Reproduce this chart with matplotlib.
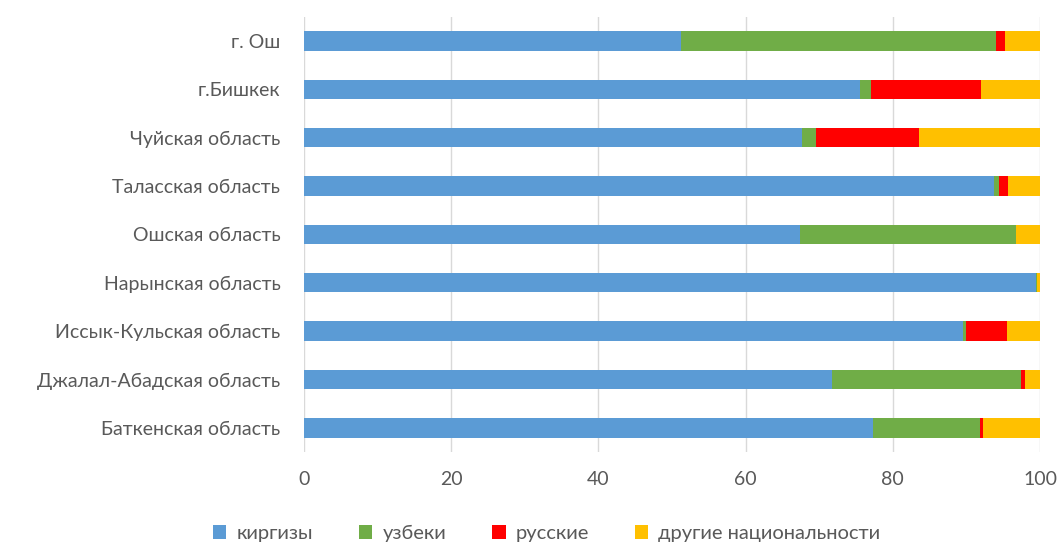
import matplotlib
matplotlib.use("Agg")
import matplotlib.pyplot as plt
import numpy as np

categories = ["г. Ош", "г.Бишкек", "Чуйская область", "Таласская область",
              "Ошская область", "Нарынская область", "Иссык-Кульская область",
              "Джалал-Абадская область", "Баткенская область"]
series_names = ["киргизы", "узбеки", "русские", "другие национальности"]
kyrgyz = [51.2, 75.6, 67.7, 93.7, 67.4, 99.4, 89.5, 71.8, 77.3]
uzbek = [42.8, 1.4, 1.8, 0.7, 29.3, 0.15, 0.5, 25.6, 14.6]
russian = [1.3, 15.0, 14.0, 1.2, 0.0, 0.0, 5.5, 0.5, 0.4]
other = [4.7, 8.0, 16.5, 4.4, 3.3, 0.45, 4.5, 2.1, 7.7]
colors = ["#5B9BD5", "#70AD47", "#FF0000", "#FFC000"]
xticks = [0, 20, 40, 60, 80, 100]

plt.rcParams['font.family'] = ['Lato', 'DejaVu Sans']
fig = plt.figure(figsize=(10.62, 5.44), dpi=100)
ax = fig.add_axes([0.2863, 0.1691, 0.6930, 0.7997])

y = np.arange(len(categories))
left = np.zeros(len(categories))
handles = []
for vals, name, c in zip([kyrgyz, uzbek, russian, other], series_names, colors):
    h = ax.barh(y, vals, left=left, height=0.4, color=c, label=name, zorder=3)
    handles.append(h)
    left = left + np.array(vals)

ax.set_ylim(len(categories) - 0.5, -0.5)
ax.set_xlim(0, 100)
ax.set_xticks(xticks)
ax.set_xticklabels([str(t) for t in xticks])
ax.set_yticks(y)
ax.set_yticklabels(categories)
ax.grid(axis='x', color='#D9D9D9', linewidth=1, zorder=0)
for s in ax.spines.values():
    s.set_visible(False)
ax.tick_params(axis='both', length=0, colors='#595959', labelsize=14)
ax.tick_params(axis='y', pad=17)
ax.tick_params(axis='x', pad=14)

fig.legend(handles=handles, labels=series_names, loc='lower center',
           bbox_to_anchor=(0.515, -0.03), ncol=4, frameon=False,
           fontsize=14.5, labelcolor='#595959', handlelength=0.65,
           handleheight=0.65, handletextpad=0.5, columnspacing=2.3)

fig.savefig("out.png", dpi=100)
